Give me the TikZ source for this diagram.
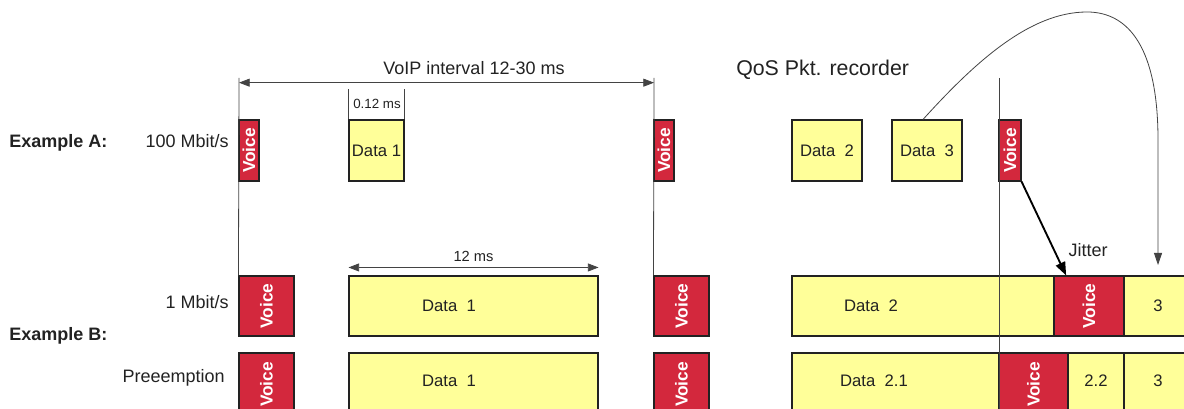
\documentclass[tikz,border=0pt]{standalone}
\usepackage{fontspec}
\setmainfont{Liberation Sans}
\usetikzlibrary{fit,arrows.meta}

\definecolor{voicered}{HTML}{D3283D}
\definecolor{datayellow}{HTML}{FFFF99}
\definecolor{ink}{HTML}{222222}

\newcommand{\voicetxt}{\rotatebox{90}{Voice}}

\tikzset{
  pkt/.style={draw=ink, line width=0.8pt, inner sep=0pt},
  vtext/.style={anchor=center, inner sep=0pt, text=white, font=\fontsize{13}{13}\selectfont\bfseries},
  dtext/.style={anchor=center, inner sep=0pt, text=ink, font=\fontsize{12.5}{14}\selectfont},
  voice/.style={pkt, fill=voicered, label={[vtext]center:\voicetxt}},
  data/.style={pkt, fill=datayellow},
  lbl/.style={text=ink, inner sep=0pt, font=\fontsize{13.5}{16}\selectfont},
  timeline/.style={draw=ink!85, line width=0.6pt},
  span/.style={timeline, {Triangle[length=8pt,width=6pt]}-{Triangle[length=8pt,width=6pt]}},
}

\begin{document}
\begin{tikzpicture}[x=0.75pt, y=-0.75pt]
  \useasboundingbox (0,0) rectangle (1184,409);
  \clip (0,0) rectangle (1184,409);

  % row labels
  \node[lbl, font=\fontsize{13.5}{16}\selectfont\bfseries, anchor=west] (exa) at (9,143) {Example A:};
  \node[lbl, font=\fontsize{13.5}{16}\selectfont\bfseries, anchor=west] (exb) at (9,336) {Example B:};
  \node[lbl, anchor=east] (r100) at (229,141) {100 Mbit/s};
  \node[lbl, anchor=east] (r1) at (229,302) {1 Mbit/s};
  \node[lbl, anchor=east] (rpre) at (225,378) {Preeemption};

  % example A
  \node[voice, fit={(239,120) (259,181)}] (va1) {};
  \node[data, fit={(349,120) (404,181)}, label={[dtext]center:Data 1}] (da1) {};
  \node[voice, fit={(654,120) (674,181)}] (va2) {};
  \node[data, fit={(792,120) (862,181)}, label={[dtext]center:Data~~2}] (da2) {};
  \node[data, fit={(892,120) (962,181)}, label={[dtext]center:Data~~3}] (da3) {};
  \node[voice, fit={(999,120) (1021,181)}] (va3) {};

  % example B, 1 Mbit/s
  \node[voice, fit={(239,276) (294,336)}] (bv1) {};
  \node[data, fit={(349,276) (598,336)}] (bd1) {};
  \node[voice, fit={(654,276) (709,336)}] (bv2) {};
  \node[data, fit={(792,276) (1054,336)}] (bd2) {};
  \node[voice, fit={(1054,276) (1124,336)}] (bv3) {};
  \node[data, fit={(1124,276) (1192,336)}] (bd3) {};
  \node[dtext] (bt1) at (449,306) {Data~~1};
  \node[dtext] (bt2) at (871,306) {Data~~2};
  \node[dtext] (bt3) at (1158,306) {3};

  % example B, preemption
  \node[voice, fit={(239,353) (294,416)}] (cv1) {};
  \node[data, fit={(349,353) (598,416)}] (cd1) {};
  \node[voice, fit={(654,353) (709,416)}] (cv2) {};
  \node[data, fit={(792,353) (999,416)}] (cd2) {};
  \node[voice, fit={(999,353) (1068,416)}] (cv3) {};
  \node[data, fit={(1068,353) (1124,416)}] (cd3) {};
  \node[data, fit={(1124,353) (1192,416)}] (cd4) {};
  \node[dtext] (ct1) at (449,381) {Data~~1};
  \node[dtext] (ct2) at (874,381) {Data~~2.1};
  \node[dtext] (ct3) at (1096,381) {2.2};
  \node[dtext] (ct4) at (1158,381) {3};

  % time lines
  \coordinate (t1) at (239,78);
  \coordinate (t2) at (654,78);
  \coordinate (t3) at (999,78);
  \coordinate (b3) at (999,409);
  \draw[timeline] (t1) -- (bv1.north west);
  \draw[timeline] (t2) -- (bv2.north west);
  \draw[timeline] (t3) -- (b3);

  % interval and sizes
  \draw[span] ([yshift=-3.5pt]t1) -- ([yshift=-3.5pt]t2);
  \node[lbl] (ivl) at (474,68) {VoIP interval 12-30 ms};
  \draw[timeline] (da1.north west) -- ++(0,-30);
  \draw[timeline] (da1.north east) -- ++(0,-30);
  \node[lbl, font=\fontsize{10}{12}\selectfont] (dur) at (377,104) {0.12 ms};
  \draw[span] ([yshift=6pt]bd1.north west) -- ([yshift=6pt]bd1.north east)
    node[lbl, midway, above=4pt, font=\fontsize{11}{13}\selectfont] (d12) {12 ms};

  % recorder
  \node[lbl, anchor=west, font=\fontsize{16}{19}\selectfont] (qos) at (736,70) {QoS Pkt. recorder};
  \coordinate (tip3) at (1158,265);
  \draw[timeline, -{Triangle[length=9pt,width=6pt]}] ([xshift=-3pt]da3.north)
    .. controls (975,62) and (1030,12) .. (1087,12)
    .. controls (1130,12) and (1158,50) .. (1158,140) -- (tip3);
  \draw[line width=1.4pt, -{Triangle[length=10pt,width=7.5pt]}] (va3.south east) -- ([xshift=9.5pt]bv3.north west);
  \node[lbl] (jit) at (1088,250) {Jitter};
\end{tikzpicture}
\end{document}
